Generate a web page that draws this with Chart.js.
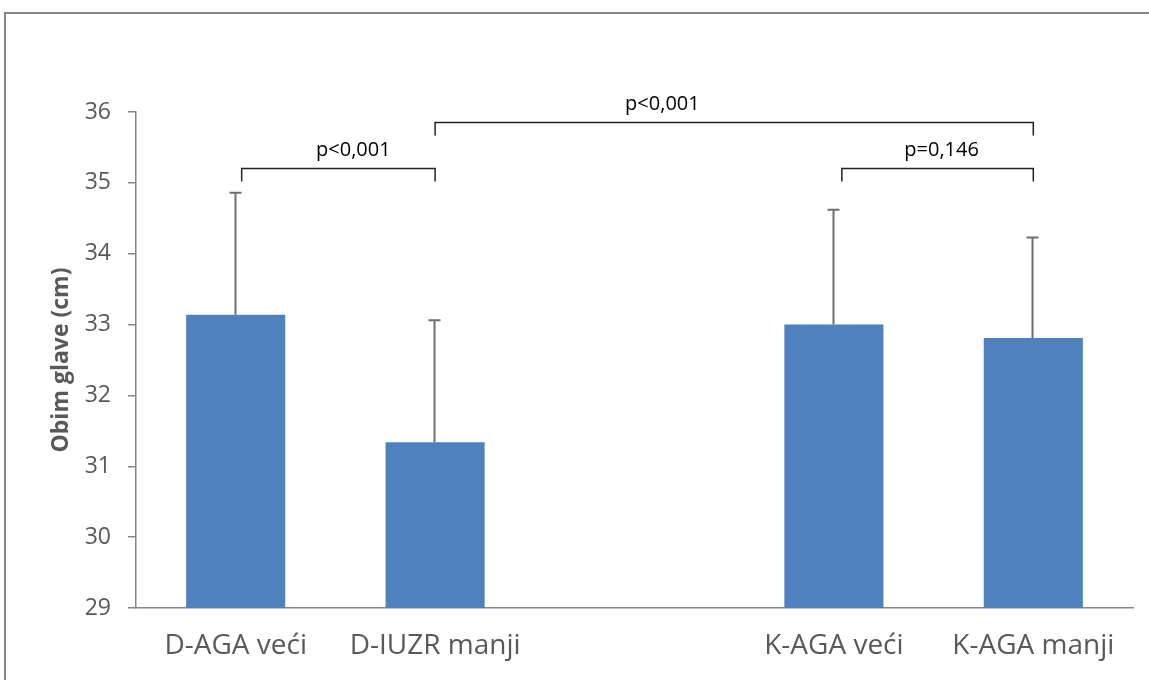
<!DOCTYPE html>
<html>
<head>
<meta charset="utf-8">
<script src="https://cdn.jsdelivr.net/npm/chart.js@4"></script>
<style>
  html, body { margin: 0; padding: 0; background: #fff; }
  #wrap { width: 1149px; height: 680px; position: relative; }
</style>
</head>
<body>
<div id="wrap"><canvas id="chart" width="1149" height="680"></canvas></div>
<script>
const categories = ["D-AGA veći", "D-IUZR manji", "", "K-AGA veći", "K-AGA manji"];
const means = [33.14, 31.34, null, 33.0, 32.81];
const sds = [1.72, 1.72, null, 1.62, 1.42];
const yTicks = [29, 30, 31, 32, 33, 34, 35, 36];

// significance brackets (category index units / y value units)
const bracketFrom = [0.03, 1.0, 3.04];
const bracketTo = [1.0, 4.0, 4.0];
const bracketLevel = [35.21, 35.86, 35.21];
const pLabels = ["p<0,001", "p<0,001", "p=0,146"];
const pLabelAt = [0.59, 2.14, 3.54];

const errorBars = {
  id: "errorBars",
  afterDatasetsDraw(chart) {
    const { ctx, scales: { x, y } } = chart;
    ctx.save();
    ctx.strokeStyle = "#6e6e6e";
    ctx.lineWidth = 2;
    means.forEach((m, i) => {
      if (m === null) return;
      const cx = Math.round(x.getPixelForValue(i)) - 0.5;
      const top = y.getPixelForValue(m + sds[i]);
      const base = y.getPixelForValue(m);
      ctx.beginPath();
      ctx.moveTo(cx, base);
      ctx.lineTo(cx, top);
      ctx.moveTo(cx - 6, top);
      ctx.lineTo(cx + 6, top);
      ctx.stroke();
    });
    ctx.restore();
  }
};

const brackets = {
  id: "brackets",
  afterDraw(chart) {
    const { ctx, scales: { x, y } } = chart;
    ctx.save();
    ctx.strokeStyle = "#222";
    ctx.lineWidth = 1.5;
    ctx.fillStyle = "#000";
    ctx.font = "20px 'Open Sans'";
    ctx.textAlign = "center";
    ctx.textBaseline = "middle";
    bracketFrom.forEach((f, i) => {
      const x1 = x.getPixelForValue(f);
      const x2 = x.getPixelForValue(bracketTo[i]);
      const yy = Math.round(y.getPixelForValue(bracketLevel[i])) + 0.5;
      ctx.beginPath();
      ctx.moveTo(x1, yy + 13);
      ctx.lineTo(x1, yy);
      ctx.lineTo(x2, yy);
      ctx.lineTo(x2, yy + 13);
      ctx.stroke();
      ctx.fillText(pLabels[i], x.getPixelForValue(pLabelAt[i]), yy - 18);
    });
    ctx.restore();
  }
};

const frame = {
  id: "frame",
  beforeDraw(chart) {
    const { ctx } = chart;
    ctx.save();
    ctx.fillStyle = "#fff";
    ctx.fillRect(0, 0, chart.width, chart.height);
    ctx.strokeStyle = "#868686";
    ctx.lineWidth = 2;
    ctx.strokeRect(5, 13, 1300, 800);
    ctx.restore();
  }
};

new Chart(document.getElementById("chart").getContext("2d"), {
  type: "bar",
  data: {
    labels: categories,
    datasets: [{
      data: means,
      backgroundColor: "#4f81bd",
      barPercentage: 0.497,
      categoryPercentage: 1.0
    }]
  },
  options: {
    responsive: false,
    animation: false,
    layout: { padding: { top: 112, right: 16, left: 0, bottom: 0 } },
    plugins: { legend: { display: false }, tooltip: { enabled: false } },
    scales: {
      x: {
        grid: { display: false, drawTicks: false },
        border: { color: "#868686", width: 1.5 },
        ticks: { color: "#595959", font: { family: "'Open Sans'", size: 28 }, padding: 21, maxRotation: 0 },
        afterFit(scale) { scale.height = 72; }
      },
      y: {
        min: 29,
        max: 36,
        afterBuildTicks(scale) { scale.ticks = yTicks.map(v => ({ value: v })); },
        grid: { drawOnChartArea: false, drawTicks: true, tickLength: 8, color: "#868686", lineWidth: 1.5 },
        border: { color: "#868686", width: 1.5 },
        ticks: { color: "#595959", font: { family: "'Open Sans'", size: 23 }, padding: 17 },
        title: {
          display: true,
          text: "Obim glave (cm)",
          color: "#595959",
          font: { family: "'Open Sans'", size: 23, weight: "bold" },
          padding: { top: 48, bottom: 0 }
        },
        afterFit(scale) { scale.width = 136; }
      }
    }
  },
  plugins: [frame, errorBars, brackets]
});
</script>
</body>
</html>
